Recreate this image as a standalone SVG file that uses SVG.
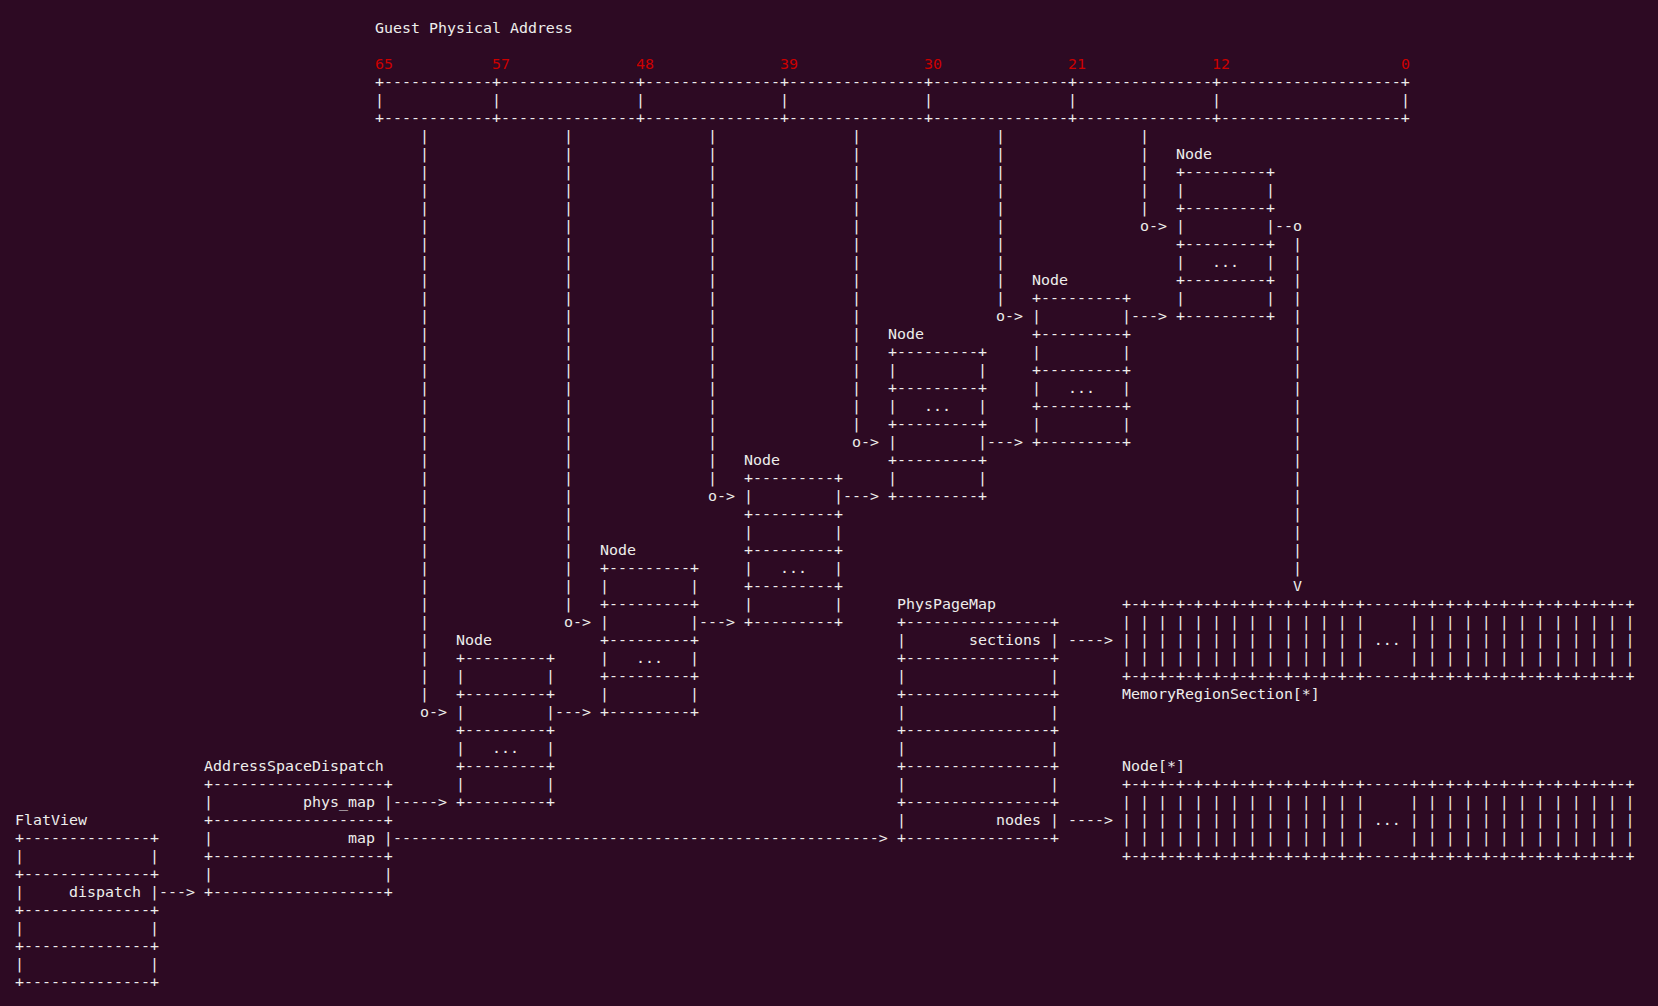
<svg xmlns="http://www.w3.org/2000/svg" width="1658" height="1006" viewBox="0 0 1658 1006" xml:space="preserve">
<style>
text{font-family:"DejaVu Sans Mono","Liberation Mono",monospace;font-size:14.95px;fill:#EEEEEC;white-space:pre}
.r{fill:#CC0000}
</style>
<rect width="1658" height="1006" fill="#2D0A23"/>
<g transform="translate(0,-2)">
<g id="gpa">
<text x="375" y="34.5">Guest Physical Address</text>
<text class="r" x="375" y="70.5">65</text>
<text class="r" x="492" y="70.5">57</text>
<text class="r" x="636" y="70.5">48</text>
<text class="r" x="780" y="70.5">39</text>
<text class="r" x="924" y="70.5">30</text>
<text class="r" x="1068" y="70.5">21</text>
<text class="r" x="1212" y="70.5">12</text>
<text class="r" x="1401" y="70.5">0</text>
<text x="375" y="88.5">+------------</text>
<text x="492" y="88.5">+---------------</text>
<text x="636" y="88.5">+---------------</text>
<text x="780" y="88.5">+---------------</text>
<text x="924" y="88.5">+---------------</text>
<text x="1068" y="88.5">+---------------</text>
<text x="1212" y="88.5">+--------------------+</text>
<text x="375 492 636 780 924 1068 1212 1401" y="106.5">||||||||</text>
<text x="375" y="124.5">+------------</text>
<text x="492" y="124.5">+---------------</text>
<text x="636" y="124.5">+---------------</text>
<text x="780" y="124.5">+---------------</text>
<text x="924" y="124.5">+---------------</text>
<text x="1068" y="124.5">+---------------</text>
<text x="1212" y="124.5">+--------------------+</text>
</g>
<g id="node1">
<text x="1176" y="160.5">Node<tspan x="1176" dy="18">+---------+</tspan><tspan x="1176" dy="18">|         |</tspan><tspan x="1176" dy="18">+---------+</tspan><tspan x="1176" dy="18">|         |</tspan><tspan x="1176" dy="18">+---------+</tspan><tspan x="1176" dy="18">|   ...   |</tspan><tspan x="1176" dy="18">+---------+</tspan><tspan x="1176" dy="18">|         |</tspan><tspan x="1176" dy="18">+---------+</tspan></text>
</g>
<g id="node2">
<text x="1032" y="286.5">Node<tspan x="1032" dy="18">+---------+</tspan><tspan x="1032" dy="18">|         |</tspan><tspan x="1032" dy="18">+---------+</tspan><tspan x="1032" dy="18">|         |</tspan><tspan x="1032" dy="18">+---------+</tspan><tspan x="1032" dy="18">|   ...   |</tspan><tspan x="1032" dy="18">+---------+</tspan><tspan x="1032" dy="18">|         |</tspan><tspan x="1032" dy="18">+---------+</tspan></text>
</g>
<g id="node3">
<text x="888" y="340.5">Node<tspan x="888" dy="18">+---------+</tspan><tspan x="888" dy="18">|         |</tspan><tspan x="888" dy="18">+---------+</tspan><tspan x="888" dy="18">|   ...   |</tspan><tspan x="888" dy="18">+---------+</tspan><tspan x="888" dy="18">|         |</tspan><tspan x="888" dy="18">+---------+</tspan><tspan x="888" dy="18">|         |</tspan><tspan x="888" dy="18">+---------+</tspan></text>
</g>
<g id="node4">
<text x="744" y="466.5">Node<tspan x="744" dy="18">+---------+</tspan><tspan x="744" dy="18">|         |</tspan><tspan x="744" dy="18">+---------+</tspan><tspan x="744" dy="18">|         |</tspan><tspan x="744" dy="18">+---------+</tspan><tspan x="744" dy="18">|   ...   |</tspan><tspan x="744" dy="18">+---------+</tspan><tspan x="744" dy="18">|         |</tspan><tspan x="744" dy="18">+---------+</tspan></text>
</g>
<g id="node5">
<text x="600" y="556.5">Node<tspan x="600" dy="18">+---------+</tspan><tspan x="600" dy="18">|         |</tspan><tspan x="600" dy="18">+---------+</tspan><tspan x="600" dy="18">|         |</tspan><tspan x="600" dy="18">+---------+</tspan><tspan x="600" dy="18">|   ...   |</tspan><tspan x="600" dy="18">+---------+</tspan><tspan x="600" dy="18">|         |</tspan><tspan x="600" dy="18">+---------+</tspan></text>
</g>
<g id="node6">
<text x="456" y="646.5">Node<tspan x="456" dy="18">+---------+</tspan><tspan x="456" dy="18">|         |</tspan><tspan x="456" dy="18">+---------+</tspan><tspan x="456" dy="18">|         |</tspan><tspan x="456" dy="18">+---------+</tspan><tspan x="456" dy="18">|   ...   |</tspan><tspan x="456" dy="18">+---------+</tspan><tspan x="456" dy="18">|         |</tspan><tspan x="456" dy="18">+---------+</tspan></text>
</g>
<g id="physpagemap">
<text x="897" y="610.5">PhysPageMap<tspan x="897" dy="18">+----------------+</tspan><tspan x="897" dy="18">|       sections |</tspan><tspan x="897" dy="18">+----------------+</tspan><tspan x="897" dy="18">|                |</tspan><tspan x="897" dy="18">+----------------+</tspan><tspan x="897" dy="18">|                |</tspan><tspan x="897" dy="18">+----------------+</tspan><tspan x="897" dy="18">|                |</tspan><tspan x="897" dy="18">+----------------+</tspan><tspan x="897" dy="18">|                |</tspan><tspan x="897" dy="18">+----------------+</tspan><tspan x="897" dy="18">|          nodes |</tspan><tspan x="897" dy="18">+----------------+</tspan></text>
</g>
<g id="address-space-dispatch">
<text x="204" y="772.5">AddressSpaceDispatch<tspan x="204" dy="18">+-------------------+</tspan><tspan x="204" dy="18">|          phys_map |</tspan><tspan x="204" dy="18">+-------------------+</tspan><tspan x="204" dy="18">|               map |</tspan><tspan x="204" dy="18">+-------------------+</tspan><tspan x="204" dy="18">|                   |</tspan><tspan x="204" dy="18">+-------------------+</tspan></text>
</g>
<g id="flatview">
<text x="15" y="826.5">FlatView<tspan x="15" dy="18">+--------------+</tspan><tspan x="15" dy="18">|              |</tspan><tspan x="15" dy="18">+--------------+</tspan><tspan x="15" dy="18">|     dispatch |</tspan><tspan x="15" dy="18">+--------------+</tspan><tspan x="15" dy="18">|              |</tspan><tspan x="15" dy="18">+--------------+</tspan><tspan x="15" dy="18">|              |</tspan><tspan x="15" dy="18">+--------------+</tspan></text>
</g>
<g id="memory-region-sections">
<text x="1122" y="610.5">+-+-+-+-+-+-+-+-+-+-+-+-+-+-----+-+-+-+-+-+-+-+-+-+-+-+-+<tspan x="1122" dy="18">| | | | | | | | | | | | | |     | | | | | | | | | | | | |</tspan><tspan x="1122" dy="18">| | | | | | | | | | | | | | ... | | | | | | | | | | | | |</tspan><tspan x="1122" dy="18">| | | | | | | | | | | | | |     | | | | | | | | | | | | |</tspan><tspan x="1122" dy="18">+-+-+-+-+-+-+-+-+-+-+-+-+-+-----+-+-+-+-+-+-+-+-+-+-+-+-+</tspan><tspan x="1122" dy="18">MemoryRegionSection[*]</tspan></text>
</g>
<g id="nodes-array">
<text x="1122" y="772.5">Node[*]<tspan x="1122" dy="18">+-+-+-+-+-+-+-+-+-+-+-+-+-+-----+-+-+-+-+-+-+-+-+-+-+-+-+</tspan><tspan x="1122" dy="18">| | | | | | | | | | | | | |     | | | | | | | | | | | | |</tspan><tspan x="1122" dy="18">| | | | | | | | | | | | | | ... | | | | | | | | | | | | |</tspan><tspan x="1122" dy="18">| | | | | | | | | | | | | |     | | | | | | | | | | | | |</tspan><tspan x="1122" dy="18">+-+-+-+-+-+-+-+-+-+-+-+-+-+-----+-+-+-+-+-+-+-+-+-+-+-+-+</tspan></text>
</g>
<g id="connectors">
<text x="420 420 420 420 420 420 420 420 420 420 420 420 420 420 420 420 420 420 420 420 420 420 420 420 420 420 420 420 420 420 420 420" y="142.5 160.5 178.5 196.5 214.5 232.5 250.5 268.5 286.5 304.5 322.5 340.5 358.5 376.5 394.5 412.5 430.5 448.5 466.5 484.5 502.5 520.5 538.5 556.5 574.5 592.5 610.5 628.5 646.5 664.5 682.5 700.5">||||||||||||||||||||||||||||||||</text>
<text x="564 564 564 564 564 564 564 564 564 564 564 564 564 564 564 564 564 564 564 564 564 564 564 564 564 564 564" y="142.5 160.5 178.5 196.5 214.5 232.5 250.5 268.5 286.5 304.5 322.5 340.5 358.5 376.5 394.5 412.5 430.5 448.5 466.5 484.5 502.5 520.5 538.5 556.5 574.5 592.5 610.5">|||||||||||||||||||||||||||</text>
<text x="708 708 708 708 708 708 708 708 708 708 708 708 708 708 708 708 708 708 708 708" y="142.5 160.5 178.5 196.5 214.5 232.5 250.5 268.5 286.5 304.5 322.5 340.5 358.5 376.5 394.5 412.5 430.5 448.5 466.5 484.5">||||||||||||||||||||</text>
<text x="852 852 852 852 852 852 852 852 852 852 852 852 852 852 852 852 852" y="142.5 160.5 178.5 196.5 214.5 232.5 250.5 268.5 286.5 304.5 322.5 340.5 358.5 376.5 394.5 412.5 430.5">|||||||||||||||||</text>
<text x="996 996 996 996 996 996 996 996 996 996" y="142.5 160.5 178.5 196.5 214.5 232.5 250.5 268.5 286.5 304.5">||||||||||</text>
<text x="1140 1140 1140 1140 1140" y="142.5 160.5 178.5 196.5 214.5">|||||</text>
<text x="1293 1293 1293 1293 1293 1293 1293 1293 1293 1293 1293 1293 1293 1293 1293 1293 1293 1293 1293" y="250.5 268.5 286.5 304.5 322.5 340.5 358.5 376.5 394.5 412.5 430.5 448.5 466.5 484.5 502.5 520.5 538.5 556.5 574.5">|||||||||||||||||||</text>
<text x="1140" y="232.5">o-&gt;</text>
<text x="1275" y="232.5">--o</text>
<text x="1293" y="592.5">V</text>
<text x="996" y="322.5">o-&gt;</text>
<text x="1131" y="322.5">---&gt;</text>
<text x="852" y="448.5">o-&gt;</text>
<text x="987" y="448.5">---&gt;</text>
<text x="708" y="502.5">o-&gt;</text>
<text x="843" y="502.5">---&gt;</text>
<text x="564" y="628.5">o-&gt;</text>
<text x="699" y="628.5">---&gt;</text>
<text x="420" y="718.5">o-&gt;</text>
<text x="555" y="718.5">---&gt;</text>
<text x="393" y="808.5">-----&gt;</text>
<text x="393" y="844.5">------------------------------------------------------&gt;</text>
<text x="159" y="898.5">---&gt;</text>
<text x="1068" y="646.5">----&gt;</text>
<text x="1068" y="826.5">----&gt;</text>
</g>
</g>
</svg>
